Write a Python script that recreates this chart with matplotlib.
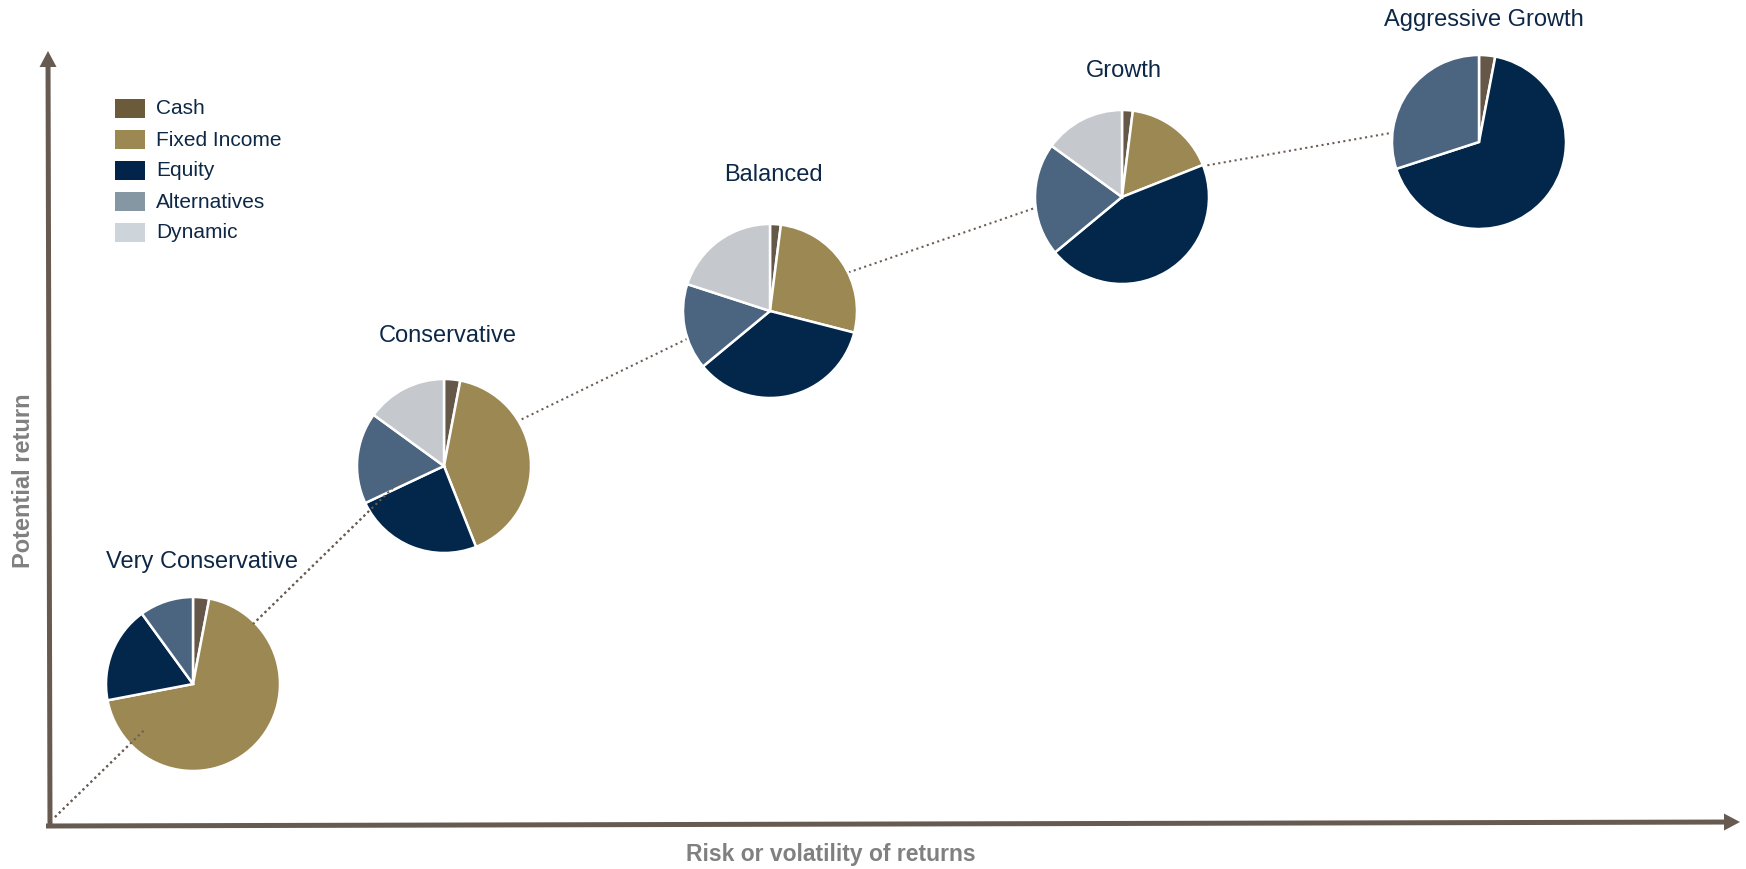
import matplotlib.pyplot as plt
import numpy as np

# data
profiles = ['Very Conservative', 'Conservative', 'Balanced', 'Growth', 'Aggressive Growth']
assets = ['Cash', 'Fixed Income', 'Equity', 'Alternatives', 'Dynamic']
cash = [3, 3, 2, 2, 3]
fixed_income = [69, 41, 27, 17, 0]
equity = [18, 24, 35, 45, 67]
alternatives = [10, 17, 16, 21, 30]
dynamic = [0, 15, 20, 15, 0]

# layout (pixel coords, y down)
pie_centers = [(193, 685), (444, 467), (770, 312), (1122, 198), (1479, 143)]
label_pos = [(202, 562), (448, 336), (773, 175), (1124, 71), (1484, 20)]
trend_x = [55, 405, 763, 1107, 1470]
trend_y = [818, 477, 303, 184, 120]
radius = 87

pie_colors = ['#665849', '#9C8852', '#02274A', '#4B6580', '#C5C8CD']
legend_colors = ['#6B5B3B', '#9C8852', '#02244A', '#8497A3', '#CDD5DB']
axis_color = '#675A50'
text_color = '#0D2847'

plt.rcParams['font.family'] = ['Liberation Sans', 'DejaVu Sans']

fig = plt.figure(figsize=(17.46, 8.70), dpi=100)
ax = fig.add_axes([0, 0, 1, 1])

# dotted trend line behind the pies
ax.plot(trend_x, trend_y, linestyle=':', color='#6B5E55', lw=1.5, zorder=1)
# in the original the first stretch also shows on top of the first pie
for xa, xb in [(55, 144), (253, 405)]:
    xs = np.array([xa, xb])
    ax.plot(xs, np.interp(xs, trend_x, trend_y), linestyle=':', color='#6B5E55',
            lw=1.5, zorder=5)

shares = np.array([cash, fixed_income, equity, alternatives, dynamic]).T
for i, name in enumerate(profiles):
    vals = shares[i]
    keep = vals > 0
    wedges, _ = ax.pie(vals[keep], colors=[c for c, k in zip(pie_colors, keep) if k],
                       center=pie_centers[i], radius=radius, startangle=-90,
                       counterclock=True, frame=True,
                       wedgeprops=dict(edgecolor='white', linewidth=1.8))
    for w in wedges:
        w.set_zorder(3)
    ax.text(label_pos[i][0], label_pos[i][1], name, ha='center', va='center',
            fontsize=17, color=text_color)

# legend
for j, a in enumerate(assets):
    y = 109 + j * 31
    ax.add_patch(plt.Rectangle((115, y - 9.5), 30, 19, color=legend_colors[j], lw=0))
    ax.text(156, y, a, ha='left', va='center', fontsize=15, color=text_color)

# axes arrows
ax.arrow(50, 829, -2, -777, width=5, head_width=17, head_length=16,
         length_includes_head=True, color=axis_color, lw=0, zorder=4)
ax.arrow(46, 827, 1694, -4, width=5, head_width=17, head_length=16,
         length_includes_head=True, color=axis_color, lw=0, zorder=4)

ax.text(831, 855, 'Risk or volatility of returns', ha='center', va='center',
        fontsize=16.5, fontweight='bold', color='#808080')
ax.text(24, 481, 'Potential return', ha='center', va='center', rotation=90,
        fontsize=17, fontweight='bold', color='#808080')

ax.set_xlim(0, 1746)
ax.set_ylim(870, 0)
ax.set_aspect('auto')
ax.axis('off')

plt.savefig('out.png', dpi=100)
